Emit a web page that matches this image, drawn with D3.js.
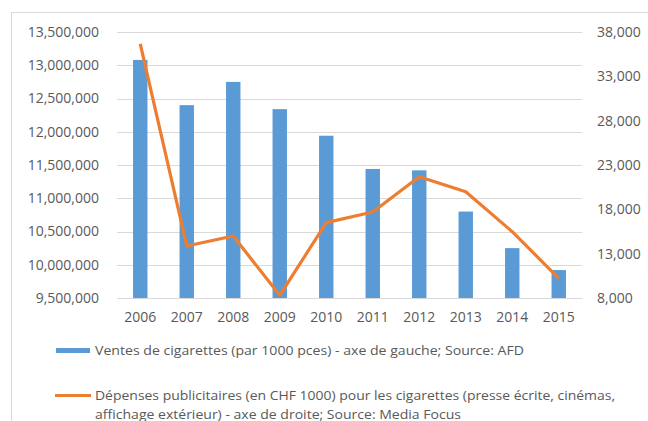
<!doctype html>
<html>
<head>
    <meta charset="utf-8">
    <title>Ventes et publicité cigarettes</title>
    <script src='https://d3js.org/d3.v7.min.js'></script>
    <style>
        body { margin: 0; background: #fff; }
        text { font-family: 'Open Sans', sans-serif; fill: #595959; }
    </style>
</head>
<body>
<svg></svg>
</body>
<script>

    // data
    var years = ['2006', '2007', '2008', '2009', '2010', '2011', '2012', '2013', '2014', '2015'];
    var ventes = [13080000, 12400000, 12750000, 12340000, 11940000, 11440000, 11420000, 10800000, 10250000, 9920000];
    var depenses = [36650, 13870, 14990, 8300, 16500, 17700, 21680, 19990, 15480, 10220];
    var leftTicks = [9500000, 10000000, 10500000, 11000000, 11500000, 12000000, 12500000, 13000000, 13500000];
    var rightTicks = [8000, 13000, 18000, 23000, 28000, 33000, 38000];
    var legendLabels = [
        'Ventes de cigarettes (par 1000 pces) - axe de gauche; Source: AFD',
        'Dépenses publicitaires (en CHF 1000) pour les cigarettes (presse écrite, cinémas,',
        'affichage extérieur) - axe de droite; Source: Media Focus'
    ];

    var svgWidth = 648, svgHeight = 421;
    var plotLeft = 117, plotRight = 582, plotTop = 32, plotBottom = 298;
    var blue = '#5b9bd5', orange = '#ed7d31', grid = '#d9d9d9';

    var svg = d3.select('svg')
        .attr('width', svgWidth)
        .attr('height', svgHeight);

    // chart border (runs off the right and bottom edge)
    svg.append('rect')
        .attr('x', 11.5).attr('y', 12.5)
        .attr('width', 700).attr('height', 500)
        .attr('fill', 'none')
        .attr('stroke', grid);

    var x = d3.scaleBand()
        .domain(years)
        .range([plotLeft, plotRight])
        .paddingInner(0.69)
        .paddingOuter(0.345);

    var yLeft = d3.scaleLinear()
        .domain([9500000, 13500000])
        .range([plotBottom, plotTop]);

    var yRight = d3.scaleLinear()
        .domain([8000, 38000])
        .range([plotBottom, plotTop]);

    // gridlines
    svg.append('g').selectAll('line')
        .data(leftTicks)
        .enter()
        .append('line')
        .attr('x1', plotLeft).attr('x2', plotRight)
        .attr('y1', function (d) { return Math.round(yLeft(d)) + 0.5; })
        .attr('y2', function (d) { return Math.round(yLeft(d)) + 0.5; })
        .attr('stroke', grid);

    // left axis
    var leftAxis = d3.axisLeft(yLeft)
        .tickValues(leftTicks)
        .tickFormat(d3.format(','))
        .tickSize(0)
        .tickPadding(18);
    var gl = svg.append('g')
        .attr('transform', 'translate(' + plotLeft + ',0)')
        .call(leftAxis);
    gl.select('.domain').remove();
    gl.selectAll('text').style('font-size', '14px').attr('fill', '#595959');

    // right axis
    var rightAxis = d3.axisRight(yRight)
        .tickValues(rightTicks)
        .tickFormat(d3.format(','))
        .tickSize(0)
        .tickPadding(15);
    var gr = svg.append('g')
        .attr('transform', 'translate(' + plotRight + ',0)')
        .call(rightAxis);
    gr.select('.domain').remove();
    gr.selectAll('text').style('font-size', '14px').attr('fill', '#595959');

    // bars
    svg.append('g').selectAll('rect')
        .data(ventes)
        .enter()
        .append('rect')
        .attr('x', function (d, i) { return x(years[i]); })
        .attr('y', function (d) { return yLeft(d); })
        .attr('width', x.bandwidth())
        .attr('height', function (d) { return plotBottom - yLeft(d); })
        .attr('fill', blue);

    // bottom axis
    var bottomAxis = d3.axisBottom(x)
        .tickSize(0)
        .tickPadding(14);
    var gb = svg.append('g')
        .attr('transform', 'translate(0,' + plotBottom + ')')
        .call(bottomAxis);
    gb.select('.domain').attr('stroke', grid);
    gb.selectAll('text').style('font-size', '14px').attr('fill', '#595959');

    // line
    var line = d3.line()
        .x(function (d, i) { return x(years[i]) + x.bandwidth() / 2; })
        .y(function (d) { return yRight(d); });

    svg.append('path')
        .datum(depenses)
        .attr('d', line)
        .attr('fill', 'none')
        .attr('stroke', orange)
        .attr('stroke-width', 3.2)
        .attr('stroke-linejoin', 'round');

    // legend
    var legend = svg.append('g');
    legend.append('rect')
        .attr('x', 56).attr('y', 348)
        .attr('width', 34).attr('height', 5)
        .attr('fill', blue);
    legend.append('line')
        .attr('x1', 55).attr('x2', 91)
        .attr('y1', 395.5).attr('y2', 395.5)
        .attr('stroke', orange)
        .attr('stroke-width', 3.2);

    var legendWidths = [429, 520, 366];
    legend.selectAll('text')
        .data(legendLabels)
        .enter()
        .append('text')
        .attr('x', 95)
        .attr('y', function (d, i) { return [355, 400, 418.5][i]; })
        .attr('textLength', function (d, i) { return legendWidths[i]; })
        .attr('lengthAdjust', 'spacingAndGlyphs')
        .style('font-size', '13px')
        .text(function (d) { return d; });

</script>
</html>
